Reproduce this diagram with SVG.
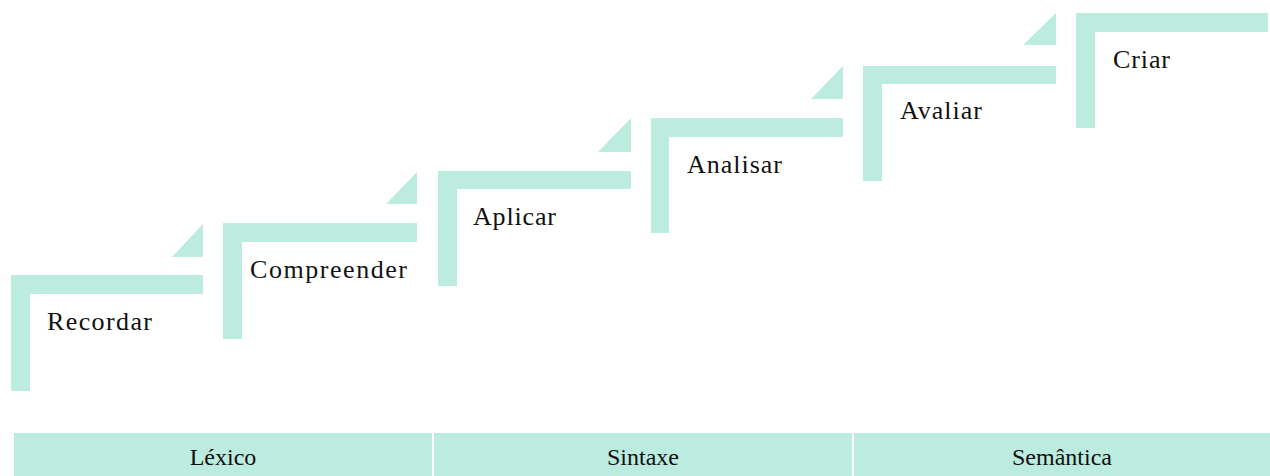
<svg xmlns="http://www.w3.org/2000/svg" width="1270" height="476" viewBox="0 0 1270 476">
<style>
.s{fill:#BCEBDF}
.lbl{font-family:'Liberation Serif',serif;font-size:26px;fill:#111}
.band{fill:#BCEBDF}
.bt{font-family:'Liberation Serif',serif;font-size:24px;fill:#111;text-anchor:middle}
</style>
<rect width="1270" height="476" fill="#fff"/>
<g id="step-recordar">
<path class="s" d="M11,391 V275 H203 V294 H30 V391 Z"/>
<path class="s" d="M172,257 L203,224 V257 Z"/>
<text class="lbl" x="47" y="330" textLength="105" lengthAdjust="spacing">Recordar</text>
</g>
<g id="step-compreender">
<path class="s" d="M223,339 V223 H417 V242 H242 V339 Z"/>
<path class="s" d="M386,204 L417,172 V204 Z"/>
<text class="lbl" x="250" y="278" textLength="157" lengthAdjust="spacing">Compreender</text>
</g>
<g id="step-aplicar">
<path class="s" d="M438,286 V171 H631 V189 H457 V286 Z"/>
<path class="s" d="M598,152 L631,118 V152 Z"/>
<text class="lbl" x="473" y="225" textLength="83" lengthAdjust="spacing">Aplicar</text>
</g>
<g id="step-analisar">
<path class="s" d="M651,233 V118 H843 V137 H669 V233 Z"/>
<path class="s" d="M811,99 L843,66 V99 Z"/>
<text class="lbl" x="687" y="173" textLength="95" lengthAdjust="spacing">Analisar</text>
</g>
<g id="step-avaliar">
<path class="s" d="M863,181 V66 H1056 V84 H882 V181 Z"/>
<path class="s" d="M1023,45 L1056,13 V45 Z"/>
<text class="lbl" x="900" y="119" textLength="82" lengthAdjust="spacing">Avaliar</text>
</g>
<g id="step-criar">
<path class="s" d="M1076,128 V13 H1268 V32 H1095 V128 Z"/>
<text class="lbl" x="1113" y="68" textLength="57" lengthAdjust="spacing">Criar</text>
</g>
<g id="band-lexico">
<rect class="band" x="14" y="433" width="418" height="43"/>
<text class="bt" x="223" y="465">Léxico</text>
</g>
<g id="band-sintaxe">
<rect class="band" x="434" y="433" width="418" height="43"/>
<text class="bt" x="643" y="465">Sintaxe</text>
</g>
<g id="band-semantica">
<rect class="band" x="854" y="433" width="416" height="43"/>
<text class="bt" x="1062" y="465">Semântica</text>
</g>
<g id="connectors"/>
</svg>
